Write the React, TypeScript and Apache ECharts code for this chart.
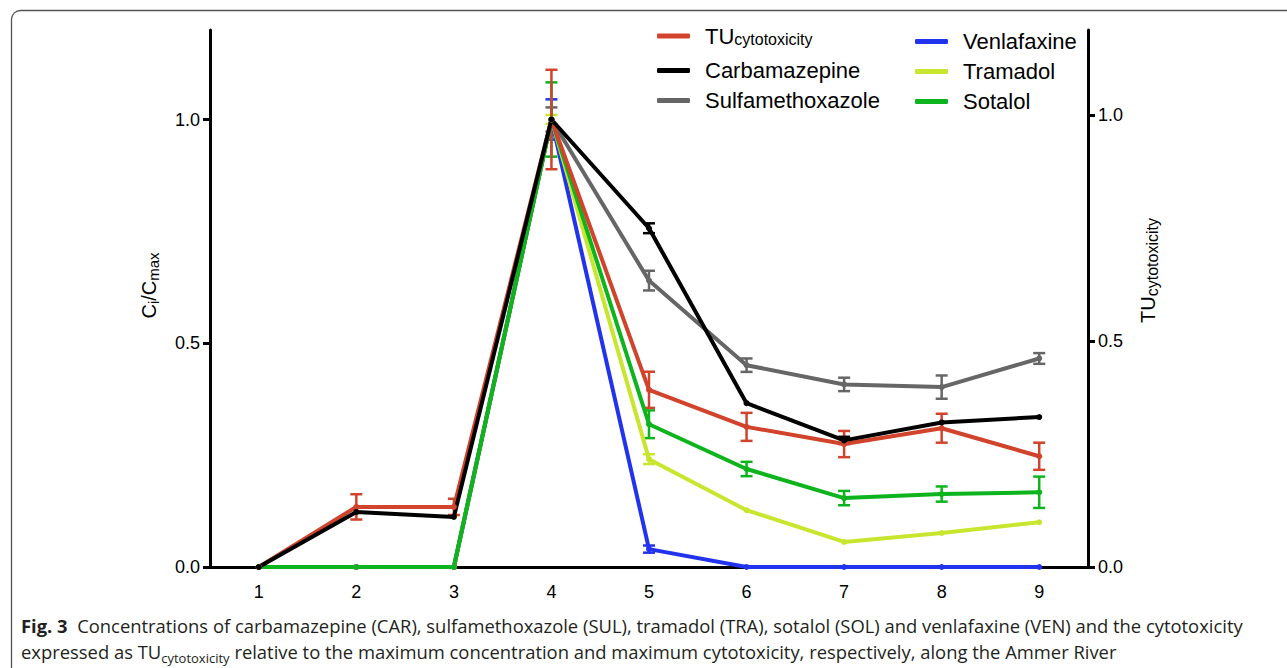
import React, { useEffect, useRef } from "react";
import * as echarts from "echarts";

const stations = ["1", "2", "3", "4", "5", "6", "7", "8", "9"];
const tuMean = [0, 0.133, 0.133, 0.99, 0.392, 0.31, 0.272, 0.307, 0.245];
const tuErr = [0, 0.028, 0.018, 0.11, 0.04, 0.031, 0.029, 0.032, 0.03];
const carMean = [0, 0.123, 0.112, 1.0, 0.757, 0.366, 0.283, 0.323, 0.335];
const carErr = [0, 0, 0, 0, 0.011, 0, 0.008, 0, 0];
const sulMean = [0, 0, 0, 1.0, 0.64, 0.451, 0.408, 0.402, 0.466];
const sulErr = [0, 0, 0, 0.027, 0.022, 0.015, 0.015, 0.026, 0.012];
const venMean = [0, 0, 0, 1.0, 0.04, 0, 0, 0, 0];
const venErr = [0, 0, 0, 0.045, 0.008, 0, 0, 0, 0];
const traMean = [0, 0, 0, 1.0, 0.241, 0.127, 0.056, 0.076, 0.1];
const traErr = [0, 0, 0, 0.01, 0.011, 0, 0, 0, 0];
const solMean = [0, 0, 0, 1.0, 0.319, 0.219, 0.154, 0.163, 0.167];
const solErr = [0, 0, 0, 0.083, 0.031, 0.016, 0.016, 0.017, 0.035];
const leftTicks = [0, 0.5, 1.0];
const rightTicks = [0, 0.5, 1.0];

const FONT = "'Liberation Sans', Arial, sans-serif";
const CAP_FONT = "'Open Sans', 'Noto Sans', sans-serif";

type S = { name: string; mean: number[]; err: number[]; color: string; yAxisIndex: number };

const seriesDefs: S[] = [
  { name: "Venlafaxine", mean: venMean, err: venErr, color: "#2233ee", yAxisIndex: 0 },
  { name: "Tramadol", mean: traMean, err: traErr, color: "#c8e62e", yAxisIndex: 0 },
  { name: "Sulfamethoxazole", mean: sulMean, err: sulErr, color: "#666666", yAxisIndex: 0 },
  { name: "Sotalol", mean: solMean, err: solErr, color: "#0db41d", yAxisIndex: 0 },
  { name: "TU_cytotoxicity", mean: tuMean, err: tuErr, color: "#d1432b", yAxisIndex: 1 },
  { name: "Carbamazepine", mean: carMean, err: carErr, color: "#000000", yAxisIndex: 0 },
];

function buildSeries() {
  const out: any[] = [];
  seriesDefs.forEach((s) => {
    out.push({
      name: s.name,
      type: "line",
      yAxisIndex: s.yAxisIndex,
      data: s.mean,
      symbol: "circle",
      symbolSize: 6,
      showSymbol: true,
      itemStyle: { color: s.color },
      lineStyle: { color: s.color, width: 4 },
    });
    out.push({
      name: s.name,
      type: "custom",
      yAxisIndex: s.yAxisIndex,
      data: s.mean.map((m, i) => [i, m - s.err[i], m + s.err[i], s.err[i]]),
      encode: { x: 0, y: [1, 2] },
      renderItem: (params: any, api: any) => {
        const e = api.value(3);
        if (!e) return null;
        const x = api.value(0);
        const lo = api.coord([x, api.value(1)]);
        const hi = api.coord([x, api.value(2)]);
        const hw = 6;
        const st = { stroke: s.color, lineWidth: 2.5 };
        return {
          type: "group",
          children: [
            { type: "line", shape: { x1: lo[0], y1: lo[1], x2: hi[0], y2: hi[1] }, style: st },
            { type: "line", shape: { x1: lo[0] - hw, y1: lo[1], x2: lo[0] + hw, y2: lo[1] }, style: st },
            { type: "line", shape: { x1: hi[0] - hw, y1: hi[1], x2: hi[0] + hw, y2: hi[1] }, style: st },
          ],
        };
      },
    });
  });
  return out;
}

const legendText = {
  fontFamily: FONT,
  fontSize: 22,
  color: "#000",
  lineHeight: 25,
  padding: [0, 0, 0, 10],
  rich: {
    a: { fontFamily: FONT, fontSize: 22, color: "#000", lineHeight: 22, verticalAlign: "top", padding: [0, 0, 6, 0] },
    b: { fontFamily: FONT, fontSize: 16, color: "#000", lineHeight: 16, verticalAlign: "bottom" },
  },
};

const legendCommon = {
  orient: "vertical",
  padding: 0,
  itemWidth: 33,
  itemHeight: 5,
  itemGap: 5,
  icon: "roundRect",
  textStyle: legendText,
};

export default function App() {
  const ref = useRef<HTMLDivElement>(null);
  useEffect(() => {
    if (!ref.current) return;
    const chart = echarts.init(ref.current, null, { renderer: "svg" });
    const axisCommon = {
      type: "value",
      min: 0,
      axisLine: { show: true, lineStyle: { color: "#000", width: 3 } },
      axisTick: { show: true, length: 7, lineStyle: { color: "#000", width: 3 } },
      splitLine: { show: false },
      nameLocation: "middle",
      nameRotate: 90,
    };
    chart.setOption({
      animation: false,
      backgroundColor: "#fff",
      grid: { left: 210, right: 199, top: 30, bottom: 101, containLabel: false },
      legend: [
        {
          ...legendCommon,
          left: 657,
          top: 25,
          data: ["TU_cytotoxicity", "Carbamazepine", "Sulfamethoxazole"],
          formatter: (n: string) => (n === "TU_cytotoxicity" ? "{a|TU}{b|cytotoxicity}" : n),
        },
        {
          ...legendCommon,
          left: 915,
          top: 29,
          data: ["Venlafaxine", "Tramadol", "Sotalol"],
        },
      ],
      xAxis: {
        type: "category",
        data: stations,
        boundaryGap: true,
        axisLine: { lineStyle: { color: "#000", width: 3 } },
        axisTick: { alignWithLabel: true, length: 8, lineStyle: { color: "#000", width: 2.5 } },
        axisLabel: { fontFamily: FONT, fontSize: 18, color: "#000", margin: 16 },
      },
      yAxis: [
        {
          ...axisCommon,
          max: 1.2,
          position: "left",
          axisTick: { ...axisCommon.axisTick, customValues: leftTicks },
          axisLabel: {
            customValues: leftTicks,
            fontFamily: FONT,
            fontSize: 18,
            color: "#000",
            margin: 10,
            formatter: (v: number) => v.toFixed(1),
          },
          name: "{a|C}{s|i}{a|/C}{s|max}",
          nameGap: 40,
          nameTextStyle: {
            padding: [0, 0, 0, 26],
            rich: {
              a: { fontFamily: FONT, fontSize: 20, color: "#000", lineHeight: 22, verticalAlign: "top", padding: [0, 0, 5, 0] },
              s: { fontFamily: FONT, fontSize: 15, color: "#000", lineHeight: 15, verticalAlign: "bottom" },
            },
          },
        },
        {
          ...axisCommon,
          max: 1.188,
          position: "right",
          axisTick: { ...axisCommon.axisTick, customValues: rightTicks },
          axisLabel: {
            customValues: rightTicks,
            fontFamily: FONT,
            fontSize: 18,
            color: "#000",
            margin: 10,
            formatter: (v: number) => v.toFixed(1),
          },
          name: "{a|TU}{s|cytotoxicity}",
          nameGap: 50,
          nameTextStyle: {
            padding: [0, 0, 0, 56],
            rich: {
              a: { fontFamily: FONT, fontSize: 20, color: "#000", lineHeight: 22, verticalAlign: "top", padding: [0, 0, 5, 0] },
              s: { fontFamily: FONT, fontSize: 16, color: "#000", lineHeight: 16, verticalAlign: "bottom" },
            },
          },
        },
      ],
      graphic: [
        {
          type: "rect",
          silent: true,
          z: -10,
          shape: { x: 11.5, y: 10.5, width: 1300, height: 700, r: 9 },
          style: { fill: "none", stroke: "#555", lineWidth: 1.3 },
        },
        {
          type: "text",
          x: 21,
          y: 625,
          style: {
            text: "{b|Fig. 3}  Concentrations of carbamazepine (CAR), sulfamethoxazole (SUL), tramadol (TRA), sotalol (SOL) and venlafaxine (VEN) and the cytotoxicity",
            fontFamily: CAP_FONT,
            fontSize: 18.4,
            fill: "#231f20",
            verticalAlign: "middle",
            rich: {
              b: { fontFamily: CAP_FONT, fontSize: 18.4, fontWeight: "bold", fill: "#231f20" },
            },
          },
        },
        {
          type: "text",
          x: 21,
          y: 653,
          style: {
            text: "{n|expressed as TU}{s|cytotoxicity}{n| relative to the maximum concentration and maximum cytotoxicity, respectively, along the Ammer River}",
            fontFamily: CAP_FONT,
            fontSize: 18.4,
            fill: "#231f20",
            verticalAlign: "middle",
            rich: {
              n: { fontFamily: CAP_FONT, fontSize: 18.4, fill: "#231f20", lineHeight: 22, verticalAlign: "top", padding: [0, 0, 5, 0] },
              s: { fontFamily: CAP_FONT, fontSize: 13, fill: "#231f20", lineHeight: 15, verticalAlign: "bottom" },
            },
          },
        },
      ],
      series: buildSeries(),
    });
    return () => chart.dispose();
  }, []);
  return (
    <div
      ref={ref}
      style={{ position: "fixed", left: 0, top: 0, width: 1287, height: 668, background: "#fff" }}
    />
  );
}
